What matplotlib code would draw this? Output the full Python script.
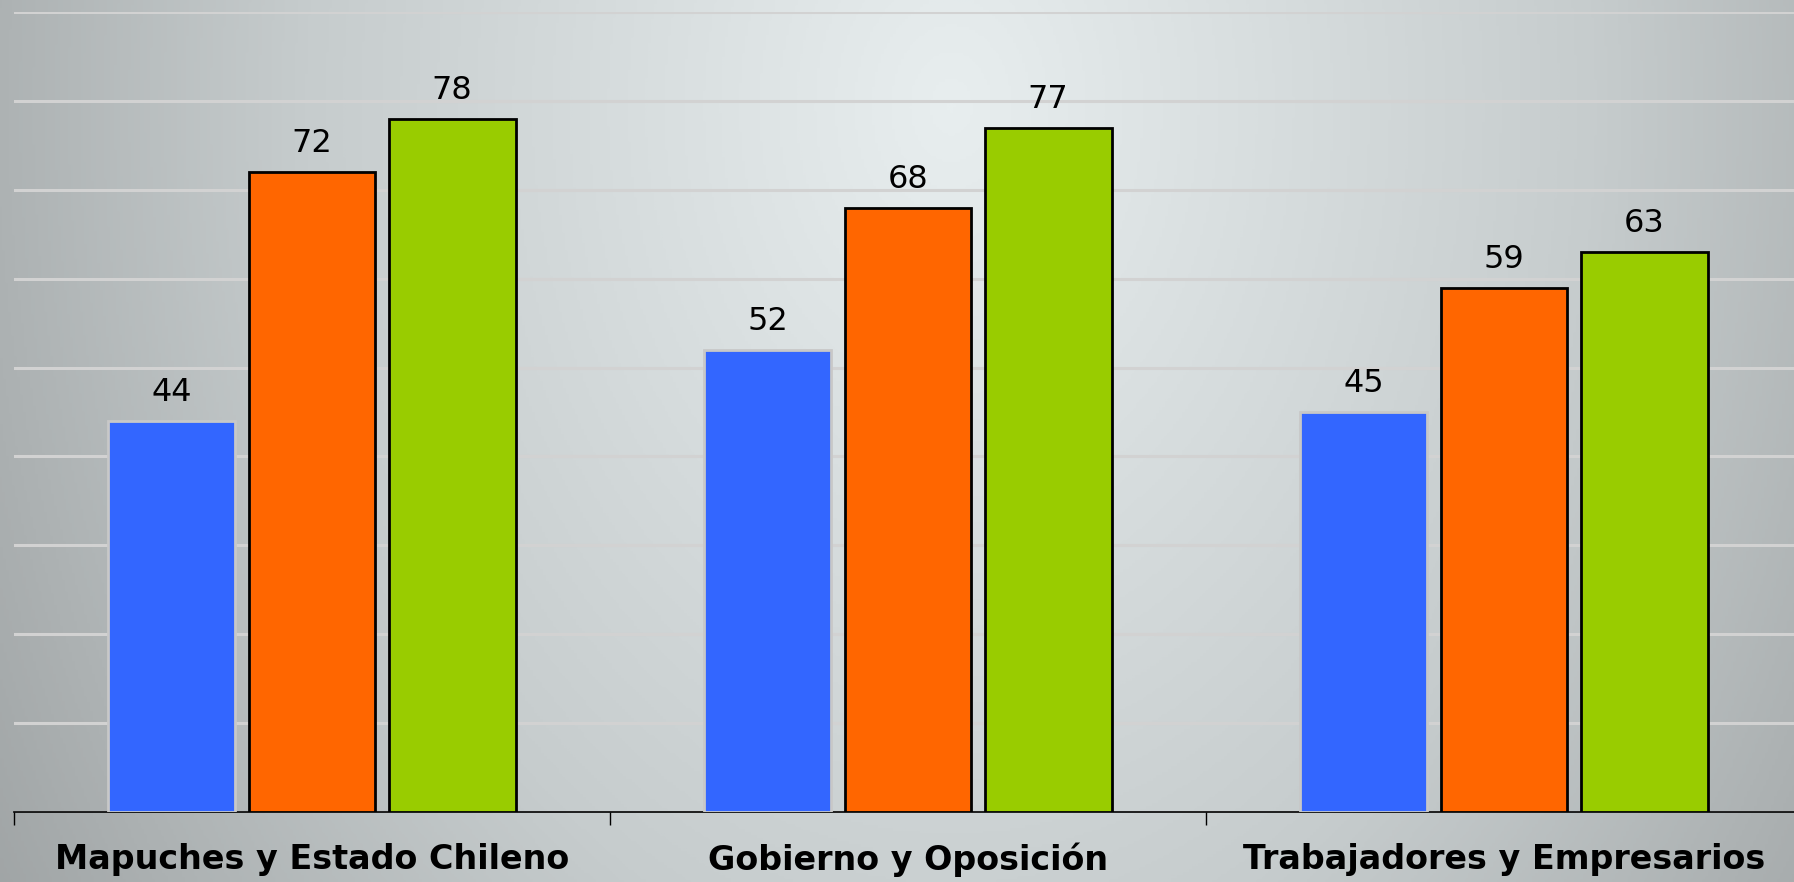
import matplotlib
matplotlib.use("Agg")
import matplotlib.pyplot as plt
import numpy as np
from matplotlib.colors import LinearSegmentedColormap

categories = ["Mapuches y Estado Chileno", "Gobierno y Oposición", "Trabajadores y Empresarios"]
serie1 = [44, 52, 45]
serie2 = [72, 68, 59]
serie3 = [78, 77, 63]

colores = ["#3366FF", "#FF6600", "#99CC00"]
bordes = ["#C8C8C8", "black", "black"]

fig = plt.figure(figsize=(17.94, 8.82), dpi=100)

# fondo degradado
bg = fig.add_axes([0, 0, 1, 1], zorder=0)
yy, xx = np.mgrid[0:1:300j, 0:1:600j]
r = np.sqrt(((xx - 0.53) / 0.72) ** 2 + ((yy - 0.12) / 2.0) ** 2)
cmap = LinearSegmentedColormap.from_list("g", ["#E8EEEF", "#C6CCCD", "#929697"])
bg.imshow(np.clip(r, 0, 1), cmap=cmap, aspect="auto", extent=[0, 1, 1, 0], vmin=0, vmax=1)
bg.axis("off")

ax = fig.add_axes([14 / 1794, 1 - 812 / 882, 1788 / 1794, 800 / 882], zorder=1)
ax.set_facecolor("none")

x = np.arange(len(categories))
w = 0.213
paso = 0.235
for i, serie in enumerate([serie1, serie2, serie3]):
    bars = ax.bar(x + (i - 1) * paso, serie, width=w, color=colores[i],
                  edgecolor=bordes[i], linewidth=2, zorder=3)
    for b, v in zip(bars, serie):
        ax.annotate(str(v), (b.get_x() + b.get_width() / 2, v), xytext=(0, 9),
                    textcoords="offset points", ha="center", va="bottom",
                    fontsize=23, color="black")

ax.set_xlim(-0.5, 2.5)
ax.set_ylim(0, 90)
ax.set_yticks(np.arange(0, 91, 10))
ax.yaxis.grid(True, color="#D2D2D2", linewidth=2.2)
ax.set_axisbelow(True)
ax.tick_params(axis="y", length=0, labelleft=False)

ax.set_xticks([-0.5, 0.5, 1.5, 2.5])
ax.set_xticklabels([])
ax.tick_params(axis="x", length=9, width=1, color="black", direction="out")
ax.set_xticks(x, minor=True)
ax.set_xticklabels(categories, minor=True, fontsize=24, fontweight="bold")
ax.tick_params(axis="x", which="minor", length=0, pad=22)

for s in ["top", "right", "left"]:
    ax.spines[s].set_visible(False)
ax.spines["bottom"].set_color("black")
ax.spines["bottom"].set_linewidth(1.2)

fig.savefig("out.png", dpi=100)
